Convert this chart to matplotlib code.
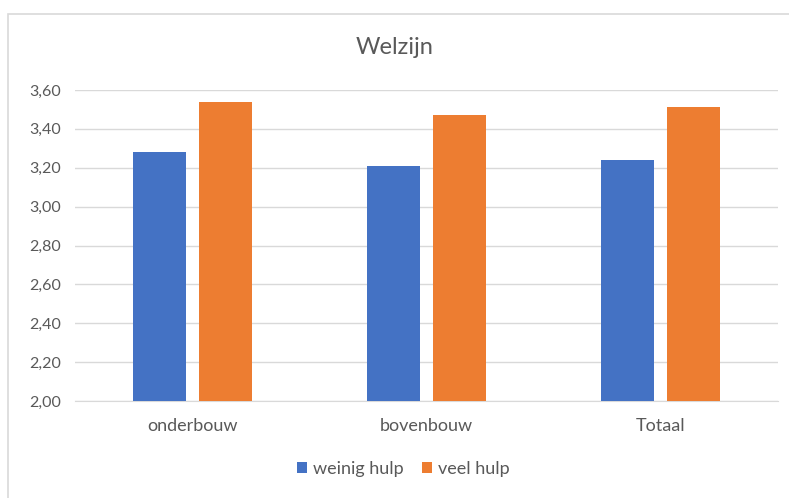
import matplotlib
matplotlib.use("Agg")
import matplotlib.pyplot as plt
from matplotlib.ticker import FuncFormatter, MultipleLocator
from matplotlib.patches import Rectangle
import numpy as np

categories = ["onderbouw", "bovenbouw", "Totaal"]
weinig_hulp = [3.28, 3.21, 3.24]
veel_hulp = [3.54, 3.47, 3.51]
series_names = ["weinig hulp", "veel hulp"]
colors = ["#4472C4", "#ED7D31"]

plt.rcParams['font.family'] = ['Lato', 'DejaVu Sans']
W, H = 789, 498
fig = plt.figure(figsize=(W/100, H/100), dpi=100)

# chart border
fig.patches.append(Rectangle((8/W, -0.5), 1.2, 1.5 - 14/H, transform=fig.transFigure,
                             fill=False, edgecolor="#D9D9D9", linewidth=1.2))

ax = fig.add_axes([75/W, 1 - 401/H, (778-75)/W, (401-90)/H])
x = np.arange(len(categories))
bw = 0.226
off = 0.141
ax.bar(x - off, weinig_hulp, bw, color=colors[0], label=series_names[0], zorder=3)
ax.bar(x + off, veel_hulp, bw, color=colors[1], label=series_names[1], zorder=3)

ax.set_ylim(2.0, 3.6)
ax.set_xlim(-0.5, 2.5)
ax.yaxis.set_major_locator(MultipleLocator(0.2))
ax.yaxis.set_major_formatter(FuncFormatter(lambda v, p: f"{v:.2f}".replace(".", ",")))
ax.grid(axis="y", color="#D9D9D9", linewidth=1.0, zorder=0)
for s in ["top", "right", "left"]:
    ax.spines[s].set_visible(False)
ax.spines["bottom"].set_color("#D9D9D9")
ax.tick_params(axis="both", length=0, colors="#595959")
ax.tick_params(axis="x", pad=12, labelsize=13)
ax.tick_params(axis="y", pad=10, labelsize=11.5)
ax.set_xticks(x)
ax.set_xticklabels(categories)

fig.text(395/W, 1 - 47/H, "Welzijn", ha="center", va="center", fontsize=17, color="#595959")

leg = fig.legend(loc="center", bbox_to_anchor=(403/W, 1 - 469/H), ncol=2, frameon=False,
                 fontsize=13, handlelength=0.6, handleheight=0.6, handletextpad=0.3,
                 columnspacing=1.0, labelcolor="#595959")

fig.savefig("out.png", dpi=100)
